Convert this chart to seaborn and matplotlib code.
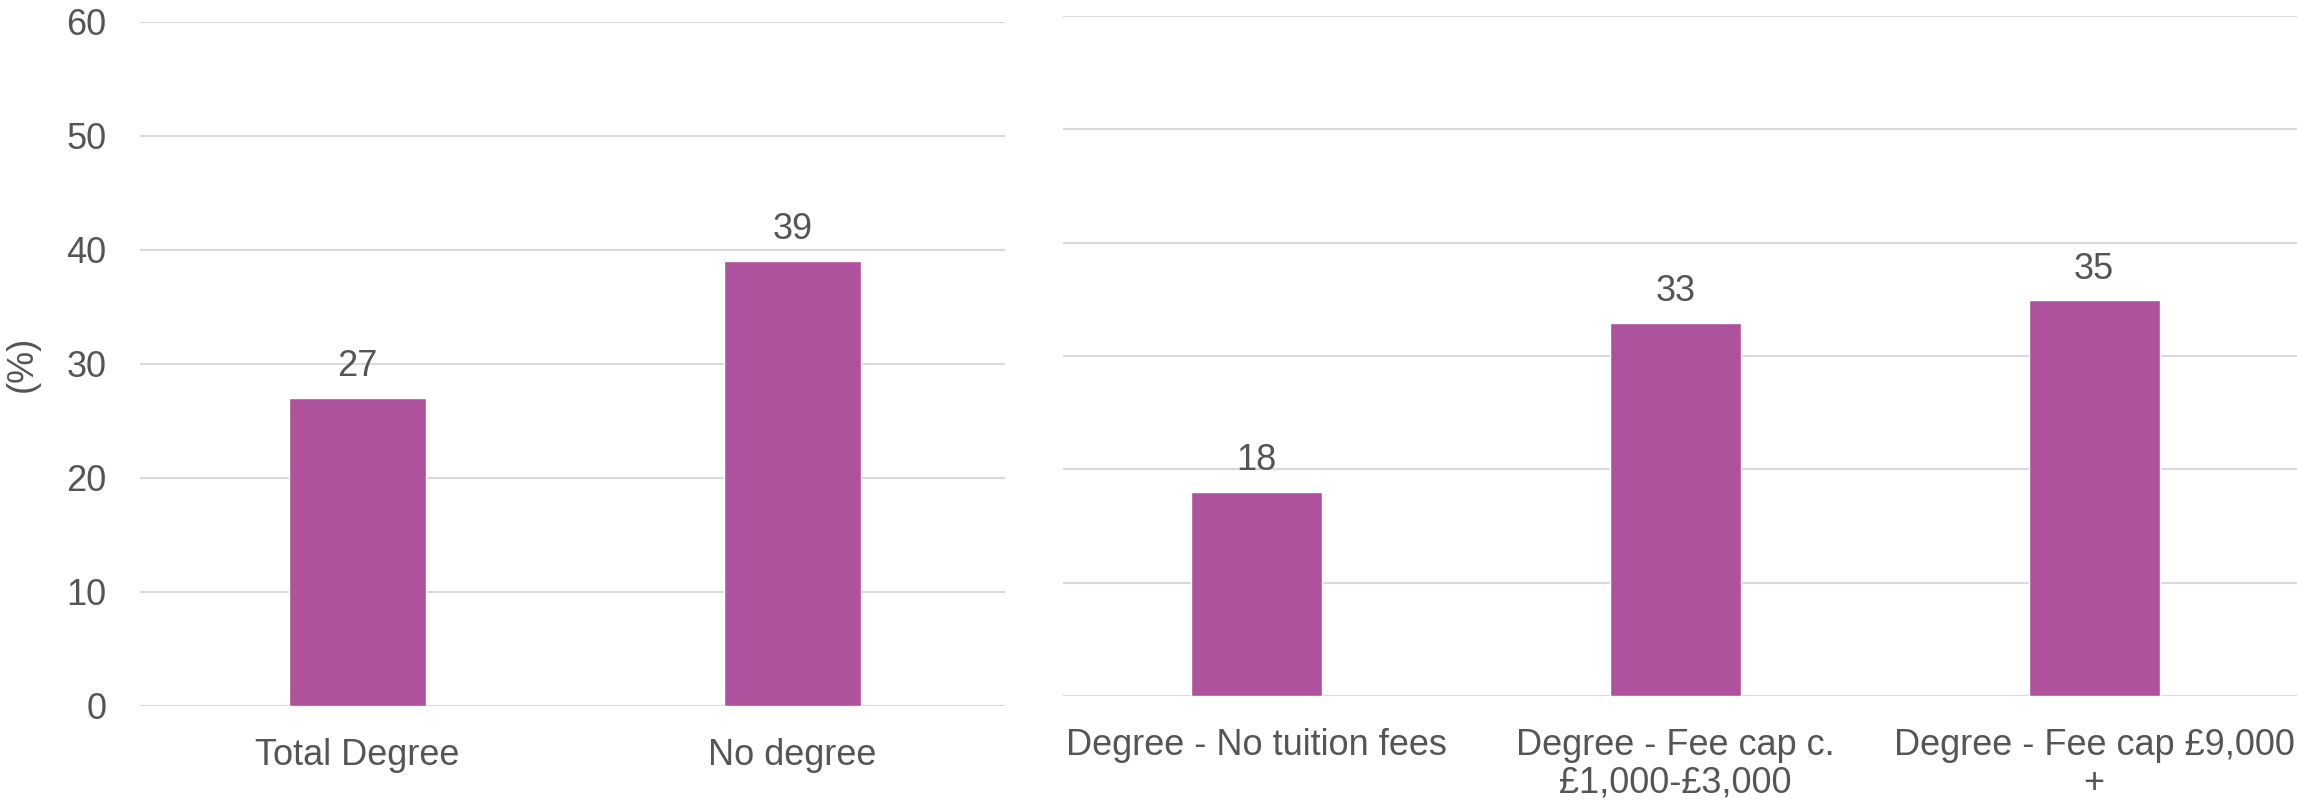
import matplotlib
matplotlib.use("Agg")
import matplotlib.pyplot as plt
import seaborn as sns

# data
left_cats = ["Total Degree", "No degree"]
left_vals = [27.0, 39.0]
right_cats = ["Degree - No tuition fees",
              "Degree - Fee cap c.\n£1,000-£3,000",
              "Degree - Fee cap £9,000\n+"]
right_vals = [18.0, 32.9, 34.9]
y_ticks = [0, 10, 20, 30, 40, 50, 60]

bar_color = "#AF529D"
text_color = "#555555"
grid_color = "#D9D9D9"
fs = 26

sns.set_style("white")
plt.rcParams["font.family"] = ["Liberation Sans", "DejaVu Sans"]

fig = plt.figure(figsize=(22.97, 8.06), dpi=100)
ax1 = fig.add_axes([140 / 2297, 1 - 705.7 / 806, 865 / 2297, 684 / 806])
ax2 = fig.add_axes([1063 / 2297, 1 - 696 / 806, 1234 / 2297, 680 / 806])

sns.barplot(x=left_cats, y=left_vals, color=bar_color, saturation=1,
            width=0.316, ax=ax1, zorder=3)
sns.barplot(x=right_cats, y=right_vals, color=bar_color, saturation=1,
            width=0.312, ax=ax2, zorder=3)

ax1.set_xlim(-0.5, 1.488)
ax2.set_xlim(-0.461, 2.484)

for ax in (ax1, ax2):
    ax.set_ylim(0, 60)
    ax.set_yticks(y_ticks)
    ax.grid(axis="y", color=grid_color, linewidth=1.5, zorder=0)
    ax.set_axisbelow(True)
    for s in ax.spines.values():
        s.set_visible(False)
    ax.tick_params(axis="both", length=0, labelsize=fs, labelcolor=text_color)
    ax.tick_params(axis="x", pad=23)
    ax.set_xlabel("")
    ax.bar_label(ax.containers[0], fmt="%.0f", padding=10, fontsize=fs,
                 color=text_color)
    for lab in ax.get_xticklabels():
        lab.set_multialignment("center")
        lab.set_linespacing(1.1)

ax1.tick_params(axis="y", pad=24)
ax1.set_ylabel("(%)", fontsize=fs, color=text_color, va="center")
ax1.yaxis.set_label_coords(-0.136, 0.5)

ax2.set_ylabel("")
ax2.tick_params(axis="y", labelleft=False)

fig.savefig("out.png", dpi=100)
